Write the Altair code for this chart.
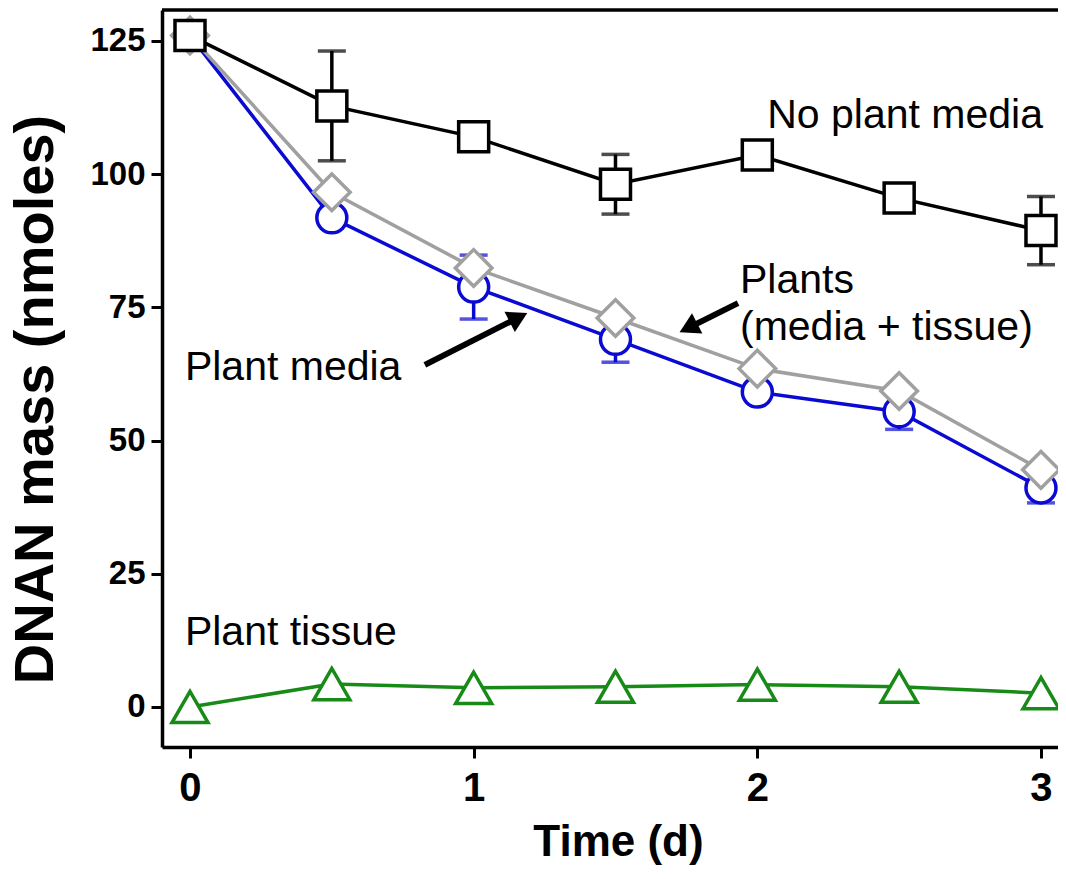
import altair as alt
import pandas as pd

# ---- data ----
days = [0, 0.5, 1, 1.5, 2, 2.5, 3]

no_plant = [126, 112.8, 107, 98.1, 103.6, 95.5, 89.4]
no_plant_err = [0, 10.3, 0, 5.6, 0, 0, 6.4]

plant_media = [126, 91.8, 78.8, 69.0, 59.1, 55.4, 41.1]
plant_media_err = [0, 0, 6.0, 4.3, 0, 3.3, 2.8]

plants_total = [126, 96.6, 82.4, 73.0, 63.5, 59.3, 44.5]

plant_tissue = [0, 4.3, 3.6, 3.8, 4.2, 3.8, 2.6]

labels_text = ["No plant media", "Plants", "(media + tissue)", "Plant media", "Plant tissue"]
labels_x = [2.035, 1.939, 1.939, -0.018, -0.018]
labels_y = [108.7, 77.7, 68.9, 61.4, 11.6]

arrow_x = [0.828, 1.932]
arrow_y = [64.2, 75.8]
arrow_x2 = [1.158, 1.757]
arrow_y2 = [73.1, 71.15]
arrow_angle = [63, 243]

x_ticks = [0, 1, 2, 3]
y_ticks = [0, 25, 50, 75, 100, 125]

BLUE = "#0a0ad2"
GRAY = "#a0a0a0"
BLACK = "#000000"
GREEN = "#178a17"
FONT = "Liberation Sans"

W, H = 896, 737

xs = alt.Scale(domain=[-0.0987, 3.06], nice=False, zero=False)
ys = alt.Scale(domain=[-7.51, 130.8], nice=False, zero=False)

xaxis = alt.Axis(
    values=x_ticks, title="Time (d)", format="d",
    labelFont=FONT, labelFontSize=40, labelFontWeight="bold", labelColor="black",
    labelPadding=10, tickSize=11, tickWidth=3, tickColor="black",
    domainWidth=3.5, domainColor="black", grid=False,
    titleFont=FONT, titleFontSize=44, titleFontWeight="bold", titleColor="black",
    titleX=456, titleY=108, titleBaseline="alphabetic", titleAlign="center")
yaxis = alt.Axis(
    values=y_ticks, title="DNAN mass (nmoles)",
    labelFont=FONT, labelFontSize=33, labelFontWeight="bold", labelColor="black",
    labelPadding=6, tickSize=11, tickWidth=3, tickColor="black",
    domainWidth=3.5, domainColor="black", grid=False,
    titleFont=FONT, titleFontSize=56, titleFontWeight="bold", titleColor="black",
    titleAngle=270, titleX=-127, titleY=389, titleAlign="center", titleBaseline="middle")


def X(f):
    return alt.X(f, scale=xs, axis=xaxis)


def Y(f):
    return alt.Y(f, scale=ys, axis=yaxis)


def frame(vals, err=None):
    d = pd.DataFrame({"t": days, "v": vals})
    if err is not None:
        d["lo"] = [v - e for v, e in zip(vals, err)]
        d["hi"] = [v + e for v, e in zip(vals, err)]
        d["e"] = err
    return d


def series(df, color, shape, size, with_err=False):
    base = alt.Chart(df)
    layers = []
    if with_err:
        eb = base.transform_filter("datum.e > 0").mark_errorbar(
            color=color, thickness=3.5,
            ticks={"size": 28, "thickness": 3.5, "color": color},
        ).encode(x=X("t:Q"), y=Y("lo:Q"), y2="hi:Q")
        layers.append(eb)
    line = base.mark_line(color=color, strokeWidth=3.5).encode(x=X("t:Q"), y=Y("v:Q"))
    pts = base.mark_point(shape=shape, size=size, filled=True, fill="white",
                          stroke=color, strokeWidth=3.5, opacity=1).encode(x=X("t:Q"), y=Y("v:Q"))
    layers += [line, pts]
    return layers


layers = []
layers += series(frame(plant_tissue), GREEN, "triangle-up", 1296)
layers += series(frame(plant_media, plant_media_err), BLUE, "circle", 900, True)
layers += series(frame(plants_total), GRAY, "diamond", 1340)
layers += series(frame(no_plant, no_plant_err), BLACK, "square", 900, True)

lab = pd.DataFrame({"text": labels_text, "t": labels_x, "v": labels_y})
texts = alt.Chart(lab).mark_text(
    align="left", baseline="alphabetic", font=FONT, fontSize=41, color="black"
).encode(x=X("t:Q"), y=Y("v:Q"), text="text:N")

arr = pd.DataFrame({"t": arrow_x, "v": arrow_y, "t2": arrow_x2, "v2": arrow_y2, "a": arrow_angle})
shafts = alt.Chart(arr).mark_rule(color="black", strokeWidth=6).encode(
    x=X("t:Q"), y=Y("v:Q"), x2="t2:Q", y2="v2:Q")
heads = alt.Chart(arr).mark_point(shape="triangle-up", size=520, filled=True,
                                  color="black", opacity=1).encode(
    x=X("t2:Q"), y=Y("v2:Q"), angle=alt.Angle("a:Q", scale=None))

# top frame line
top_border = alt.Chart(pd.DataFrame({"k": [0]})).mark_rule(
    color="black", strokeWidth=3.5).encode(
    x=alt.value(0), x2=alt.value(W), y=alt.value(0))

chart = alt.layer(top_border, *layers, shafts, heads, texts).properties(
    width=W, height=H,
    autosize=alt.AutoSizeParams(type="none"),
    padding={"left": 154, "top": 2, "right": 0, "bottom": 126},
).configure_view(stroke=None)

chart.save("out.html", embed_options={"renderer": "svg", "actions": False})
